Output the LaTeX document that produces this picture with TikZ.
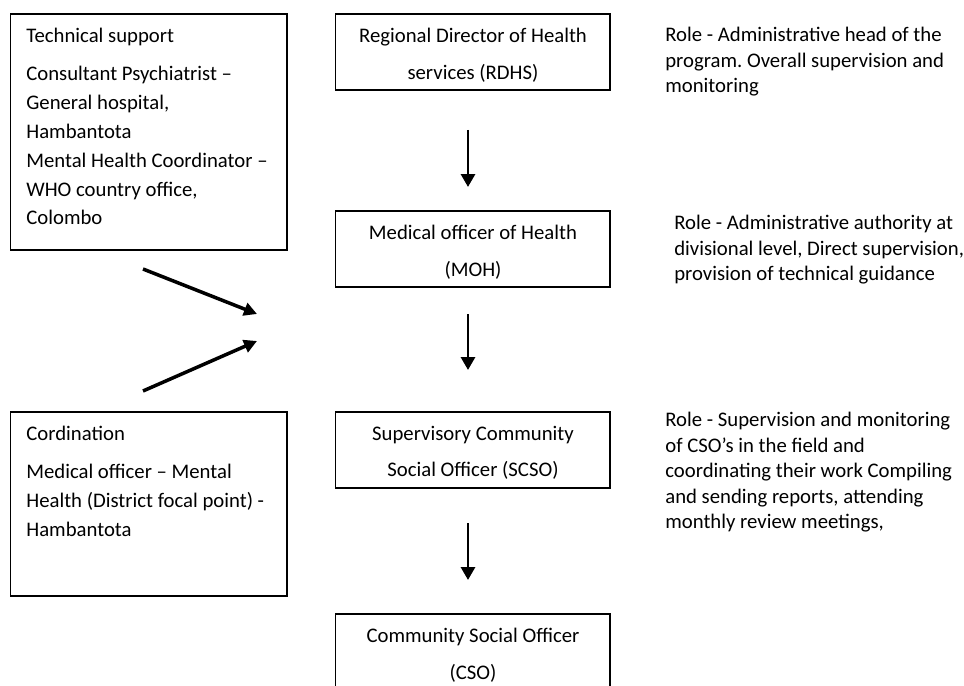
\documentclass[tikz,border=0pt]{standalone}
\usepackage{fontspec}
\setmainfont{Carlito}
\usetikzlibrary{arrows.meta,positioning}
\frenchspacing

\begin{document}
\begin{tikzpicture}[x=0.02cm, y=-0.02cm,
    txt/.style={font=\fontsize{11.8}{16.4}\selectfont, inner sep=0pt, anchor=north west, align=left},
    role/.style={font=\fontsize{11.8}{14.5}\selectfont, inner sep=0pt, anchor=north west, align=left},
    level/.style={draw, line width=0.6pt, minimum width=5.5cm, minimum height=1.52cm, inner sep=0pt},
    title/.style={align=center, inner sep=0pt, font=\fontsize{11.8}{20.8}\selectfont},
    side/.style={draw, line width=0.6pt, minimum width=5.54cm, inner sep=0pt},
    down/.style={line width=1.7pt, -{Triangle[width=0.28cm,length=0.26cm]}},
    feed/.style={line width=2pt, -{Triangle[width=0.26cm,length=0.26cm]}}]
    \useasboundingbox (0,0) rectangle (964,686);
    \clip (0,0) rectangle (964,686);
    % ---- chain of command, centre column
    \node[level] (rdhs) at (472.5,52) {};
    \node[level] (moh)  at (472.5,249) {};
    \node[level] (scso) at (472.5,450) {};
    \node[level] (cso)  at (472.5,652) {};
    \node[title] (rdhst) at (473,55) {Regional Director of Health\\services (RDHS)};
    \node[title] (moht)  at (473,252) {Medical officer of Health\\(MOH)};
    \node[title] (scsot) at (473,453) {Supervisory Community\\Social Officer (SCSO)};
    \node[title] (csot)  at (473,655) {Community Social Officer\\(CSO)};
    \coordinate (r1) at (468,130);  \coordinate (m0) at (468,187);
    \coordinate (m1) at (468,314);  \coordinate (s0) at (468,370);
    \coordinate (s1) at (468,523);  \coordinate (c0) at (468,580);
    \foreach \u/\v in {r1/m0,m1/s0,s1/c0} { \draw[down] (\u) -- (\v); }
    % ---- support boxes on the left
    \node[side, minimum height=4.72cm] (tech) at (148.5,132) {};
    \node[txt] (techh) at (26,28) {Technical support};
    \node[txt] (techb) at (26,66) {Consultant Psychiatrist --\\General hospital,\\Hambantota\\
      Mental Health Coordinator --\\WHO country office,\\Colombo};
    \node[side, minimum height=3.68cm] (coord) at (148.5,504) {};
    \node[txt] (coordh) at (26,426) {Cordination};
    \node[txt] (coordb) at (26,464) {Medical officer -- Mental\\Health (District focal point) -\\Hambantota};
    \coordinate (t1) at (143,269);  \coordinate (t2) at (257,314);
    \coordinate (k1) at (143,391);  \coordinate (k2) at (257,341);
    \draw[feed] (t1) -- (t2);
    \draw[feed] (k1) -- (k2);
    % ---- roles on the right
    \node[role] (rolea) at (665,27) {Role - Administrative head of the\\program. Overall supervision and\\monitoring};
    \node[role] (roleb) at (674,215) {Role - Administrative authority at\\divisional level, Direct supervision,\\provision of technical guidance};
    \node[role] (rolec) at (665,412) {Role - Supervision and monitoring\\of CSO's in the field and\\coordinating their work Compiling\\
      and sending reports, attending\\monthly review meetings,};
\end{tikzpicture}
\end{document}
